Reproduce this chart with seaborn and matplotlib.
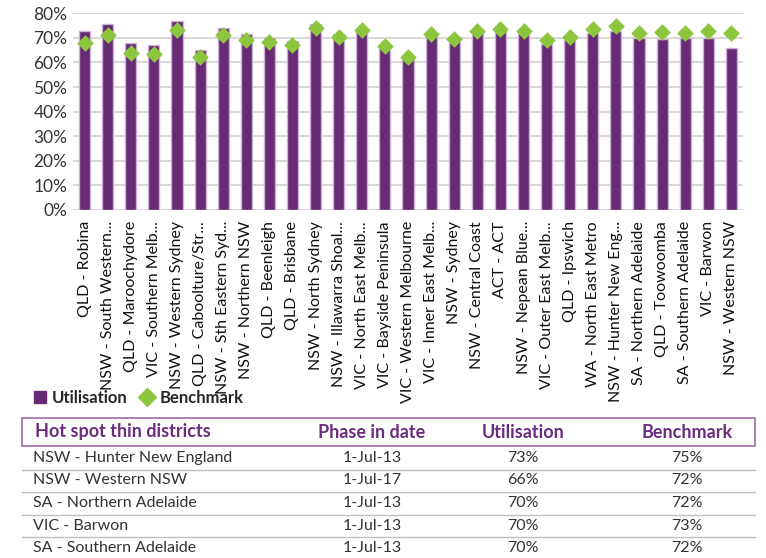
import numpy as np
import pandas as pd
import matplotlib
matplotlib.use('Agg')
import matplotlib.pyplot as plt
import seaborn as sns
from matplotlib.lines import Line2D

# ── Data ──────────────────────────────────────────────────────────────────────
districts = [
    'QLD - Robina', 'NSW - South Western...', 'QLD - Maroochydore',
    'VIC - Southern Melb...', 'NSW - Western Sydney', 'QLD - Caboolture/Str...',
    'NSW - Sth Eastern Syd...', 'NSW - Northern NSW', 'QLD - Beenleigh',
    'QLD - Brisbane', 'NSW - North Sydney', 'NSW - Illawarra Shoal...',
    'VIC - North East Melb...', 'VIC - Bayside Peninsula', 'VIC - Western Melbourne',
    'VIC - Inner East Melb...', 'NSW - Sydney', 'NSW - Central Coast', 'ACT - ACT',
    'NSW - Nepean Blue...', 'VIC - Outer East Melb...', 'QLD - Ipswich',
    'WA - North East Metro', 'NSW - Hunter New Eng...', 'SA - Northern Adelaide',
    'QLD - Toowoomba', 'SA - Southern Adelaide', 'VIC - Barwon', 'NSW - Western NSW',
]
utilisation = [73, 75.5, 68, 67.3, 77, 65, 74, 71.4, 69.8, 68.7, 75.5, 71.7,
               73.2, 67.3, 62, 71.1, 68.8, 72.5, 72.9, 72.1, 67.7, 69.1,
               71.9, 73, 70, 69.5, 70, 70, 66]
benchmark = [68, 71.1, 63.7, 63.3, 73.3, 62.2, 71.1, 69.2, 68.2, 67.3, 74.1, 70.3,
             73.2, 66.8, 62.3, 71.7, 69.5, 72.9, 73.7, 72.9, 69.0, 70.4,
             73.6, 75, 72, 72.2, 72, 73, 72]

table_header = ['Hot spot thin districts', 'Phase in date', 'Utilisation', 'Benchmark']
table_names = ['NSW - Hunter New England', 'NSW - Western NSW', 'SA - Northern Adelaide',
               'VIC - Barwon', 'SA - Southern Adelaide']
table_dates = ['1-Jul-13', '1-Jul-17', '1-Jul-13', '1-Jul-13', '1-Jul-13']
table_util = ['73%', '66%', '70%', '70%', '70%']
table_bench = ['75%', '72%', '72%', '73%', '72%']

PURPLE = '#672A75'
PURPLE_EDGE = '#CDB0D6'
GREEN = '#8CC63F'
HEAD_PURPLE = '#6B2C7E'
TEXT = '#333333'

sns.set_style('white')
plt.rcParams['font.family'] = ['Lato', 'DejaVu Sans']

W, H = 766, 558
fig = plt.figure(figsize=(W / 100, H / 100), dpi=100)
ax = fig.add_axes([73 / W, 1 - 210 / H, (743 - 73) / W, (210 - 13.3) / H])

df = pd.DataFrame({'district': districts,
                   'util': np.array(utilisation) / 100,
                   'bench': np.array(benchmark) / 100})

sns.barplot(data=df, x='district', y='util', color=PURPLE, saturation=1,
            width=0.48, edgecolor=PURPLE_EDGE, linewidth=1, ax=ax)
sns.stripplot(data=df, x='district', y='bench', color=GREEN, marker='D',
              size=8.5, jitter=False, linewidth=0, ax=ax, zorder=5)

ax.set_ylim(0, 0.8)
ax.set_xlim(-0.5, len(districts) - 0.5)
ax.set_yticks(np.arange(0, 0.81, 0.1))
ax.set_yticklabels([f'{int(round(v * 100))}%' for v in np.arange(0, 0.81, 0.1)])
ax.yaxis.grid(True, color='#D9D9D9', linewidth=1.5)
ax.set_axisbelow(True)
ax.set_xlabel('')
ax.set_ylabel('')
for s in ax.spines.values():
    s.set_visible(False)
ax.tick_params(axis='y', labelsize=12.5, colors=TEXT, length=0, pad=4)
ax.tick_params(axis='x', labelsize=11.5, colors='#111111', length=0, pad=8)
plt.setp(ax.get_xticklabels(), rotation=90, ha='center', va='top')

# ── Legend ───────────────────────────────────────────────────────────────────
handles = [Line2D([], [], marker='s', color=PURPLE, linestyle='none', markersize=9),
           Line2D([], [], marker='D', color=GREEN, linestyle='none', markersize=9)]
fig.legend(handles, ['Utilisation', 'Benchmark'], loc='center left',
           bbox_to_anchor=(32 / W, 1 - 398 / H), ncol=2, frameon=False,
           handletextpad=0.3, columnspacing=0.7, handlelength=0.9,
           borderpad=0, borderaxespad=0,
           prop={'weight': 'bold', 'size': 12})


# ── Table ────────────────────────────────────────────────────────────────────
def fy(y):
    return 1 - y / H


x_left, x_right = 22, 755
head_top, head_bot = 418, 446
fig.add_artist(plt.Rectangle((x_left / W, fy(head_bot)), (x_right - x_left) / W,
                             (head_bot - head_top) / H, transform=fig.transFigure,
                             fill=False, edgecolor='#9A6AA8', linewidth=1.2))

col_x = [35, 372, 523, 687]
col_ha = ['left', 'center', 'center', 'center']
for txt, cx, ha in zip(table_header, col_x, col_ha):
    fig.text(cx / W, fy(432), txt, ha=ha, va='center', color=HEAD_PURPLE,
             fontsize=13, fontweight='bold')

row_y = [458, 480.5, 503, 525.5, 548]
for i, ry in enumerate(row_y):
    vals = [table_names[i], table_dates[i], table_util[i], table_bench[i]]
    for j, (txt, cx, ha) in enumerate(zip(vals, col_x, col_ha)):
        fig.text((cx - 2 if j == 0 else cx) / W, fy(ry), txt, ha=ha, va='center',
                 color=TEXT, fontsize=11.5)
    fig.add_artist(Line2D([x_left / W, x_right / W], [fy(ry + 11.5), fy(ry + 11.5)],
                          transform=fig.transFigure, color='#BFBFBF', linewidth=1))

fig.savefig('out.png', dpi=100)
